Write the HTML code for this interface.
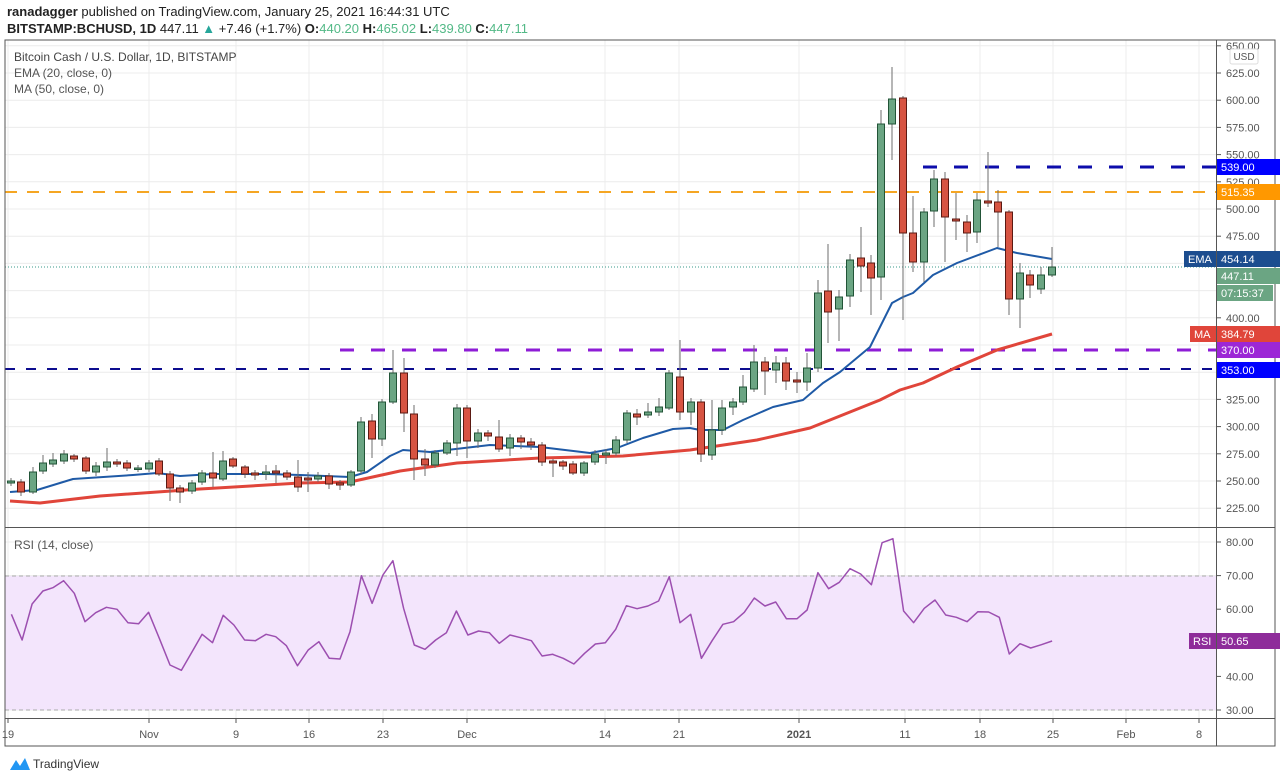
<!DOCTYPE html>
<html><head><meta charset="utf-8"><style>
body{margin:0;background:#fff;width:1280px;height:781px;overflow:hidden;font-family:"Liberation Sans",sans-serif}
svg{display:block}
</style></head><body>
<svg id="s" width="1280" height="781" xmlns="http://www.w3.org/2000/svg" font-family="Liberation Sans, sans-serif">
<text x="7" y="16" font-size="13" fill="#222"><tspan font-weight="bold">ranadagger</tspan> published on TradingView.com, January 25, 2021 16:44:31 UTC</text>
<text x="7" y="33" font-size="13" fill="#222"><tspan font-weight="bold">BITSTAMP:BCHUSD, 1D</tspan> 447.11 <tspan fill="#26a69a">▲</tspan> +7.46 (+1.7%) <tspan font-weight="bold">O:</tspan><tspan fill="#53b987">440.20</tspan> <tspan font-weight="bold">H:</tspan><tspan fill="#53b987">465.02</tspan> <tspan font-weight="bold">L:</tspan><tspan fill="#53b987">439.80</tspan> <tspan font-weight="bold">C:</tspan><tspan fill="#53b987">447.11</tspan></text>
<g id="grid" stroke="#ececec" stroke-width="1"></g>
<rect x="5" y="576" width="1211" height="134" fill="#f3e5fc"/>
<line x1="5" y1="576" x2="1216" y2="576" stroke="#aaa" stroke-dasharray="4,3"/>
<line x1="5" y1="710" x2="1216" y2="710" stroke="#aaa" stroke-dasharray="4,3"/>
<g id="plot"></g>
<rect x="5" y="40" width="1270" height="706" fill="none" stroke="#555" stroke-width="1"/>
<line x1="1216.5" y1="40" x2="1216.5" y2="746" stroke="#555"/>
<line x1="5" y1="527.5" x2="1275" y2="527.5" stroke="#555"/>
<line x1="5" y1="718.5" x2="1275" y2="718.5" stroke="#555"/>
<g id="axis" font-size="11" fill="#555"></g>
<text x="14" y="61" font-size="12" fill="#444">Bitcoin Cash / U.S. Dollar, 1D, BITSTAMP</text>
<text x="14" y="77" font-size="12" fill="#555">EMA (20, close, 0)</text>
<text x="14" y="93" font-size="12" fill="#555">MA (50, close, 0)</text>
<text x="14" y="549" font-size="12" fill="#555">RSI (14, close)</text>
<rect x="1230" y="49" width="28" height="15" rx="2" fill="#fff" stroke="#ddd"/>
<text x="1244" y="60" font-size="10" fill="#555" text-anchor="middle">USD</text>
<g transform="translate(10,756)"><path d="M0 14 L6 4 L10 10 L15 2 L20 14 Z" fill="#2196f3"/></g>
<text x="33" y="768" font-size="12" fill="#333">TradingView</text>
</svg>
<script>
const NS="http://www.w3.org/2000/svg";
function el(p,t,a,txt){const e=document.createElementNS(NS,t);for(const k in a)e.setAttribute(k,a[k]);if(txt!=null)e.textContent=txt;document.getElementById(p).appendChild(e);return e;}
const py=p=>481-(p-250)*1.088;
const ry=r=>710-(r-30)*3.36;
// grid
const vx=[8,149,236,309,383,467,605,679,799,905,980,1053,1126,1199];
vx.forEach(x=>{el('grid','line',{x1:x,y1:40,x2:x,y2:718});});
for(let p=225;p<=650;p+=25)el('grid','line',{x1:5,y1:py(p),x2:1216,y2:py(p)});
for(let r=30;r<=80;r+=10)el('grid','line',{x1:5,y1:ry(r),x2:1216,y2:ry(r)});
// price labels
[650,625,600,575,550,525,500,475,400,325,300,275,250,225].forEach(p=>{const y=py(p);el('axis','line',{x1:1216,y1:y,x2:1221,y2:y,stroke:'#555'});el('axis','text',{x:1226,y:y+4},p.toFixed(2));});
[80,70,60,50,40,30].forEach(r=>{const y=ry(r);el('axis','line',{x1:1216,y1:y,x2:1221,y2:y,stroke:'#555'});el('axis','text',{x:1226,y:y+4},r.toFixed(2));});
const tl=[[8,'19'],[149,'Nov'],[236,'9'],[309,'16'],[383,'23'],[467,'Dec'],[605,'14'],[679,'21'],[799,'2021'],[905,'11'],[980,'18'],[1053,'25'],[1126,'Feb'],[1199,'8']];
tl.forEach(([x,t])=>{el('axis','line',{x1:x,y1:718,x2:x,y2:723,stroke:'#555'});el('axis','text',{x:x,y:738,'text-anchor':'middle','font-weight':t=='2021'?'bold':'normal'},t);});
// horizontal levels
el('plot','line',{x1:5,y1:192,x2:1216,y2:192,stroke:'#f5a623','stroke-width':2,'stroke-dasharray':'12,10'});
el('plot','line',{x1:923,y1:167,x2:1216,y2:167,stroke:'#0d0dab','stroke-width':3,'stroke-dasharray':'14,17'});
el('plot','line',{x1:340,y1:350,x2:1216,y2:350,stroke:'#8e1cd6','stroke-width':3,'stroke-dasharray':'14,17'});
el('plot','line',{x1:5,y1:369,x2:1216,y2:369,stroke:'#0d0d8f','stroke-width':2,'stroke-dasharray':'10,11'});
el('plot','line',{x1:5,y1:267,x2:1216,y2:267,stroke:'#3a9a8a','stroke-width':1,'stroke-dasharray':'1,2'});
// MA / EMA
const ma=[[10,501],[40,503],[100,496],[200,489],[300,483],[350,482],[400,471],[457,463],[540,458],[623,456],[690,450],[757,440],[810,428],[880,400],[900,390],[923,383],[957,367],[997,350],[1052,334]];
const ema=[[10,492],[37,490],[73,479],[133,475],[157,473],[180,476],[213,474],[267,474],[300,475],[350,477],[367,472],[390,456],[403,450],[430,452],[490,445],[540,447],[590,453],[617,448],[643,438],[673,429],[690,428],[700,430],[723,430],[743,420],[773,407],[803,400],[823,383],[840,372],[870,347],[892,303],[903,297],[913,293],[933,275],[957,263],[997,248],[1017,253],[1052,259]];
el('plot','polyline',{points:ma.join(' '),fill:'none',stroke:'#e0453a','stroke-width':3,'stroke-linejoin':'round'});
el('plot','polyline',{points:ema.join(' '),fill:'none',stroke:'#1f5aa6','stroke-width':2,'stroke-linejoin':'round'});
// candles: x, top, bottom, g/r, high, low
const C=[[11,481,483,'g',478,486],[21,482,492,'r',479,496],[33,472,492,'g',467,494],[43,463,471,'g',455,474],[53,460,464,'g',453,467],[64,454,461,'g',450,464],[74,456,459,'r',454,462],[86,458,471,'r',456,474],[96,466,472,'g',462,476],[107,462,467,'g',448,471],[117,462,464,'r',459,467],[127,463,468,'r',460,471],[138,468,469,'g',465,472],[149,463,469,'g',460,472],[159,461,474,'r',458,476],[170,474,488,'r',471,501],[180,488,492,'r',485,503],[192,483,491,'g',480,494],[202,473,482,'g',470,485],[213,473,478,'r',452,487],[223,461,479,'g',451,481],[233,459,466,'r',457,468],[245,467,474,'r',465,478],[255,473,475,'r',470,480],[266,472,474,'g',465,480],[276,471,473,'r',465,483],[287,473,477,'r',470,480],[298,477,487,'r',460,492],[308,478,480,'r',472,492],[318,476,479,'g',472,482],[329,476,484,'r',473,489],[340,483,485,'r',480,490],[351,472,485,'g',470,487],[361,422,471,'g',417,474],[372,421,439,'r',414,458],[382,402,439,'g',399,446],[393,373,402,'g',350,404],[404,373,413,'r',358,432],[414,414,459,'r',405,480],[425,459,465,'r',449,476],[435,453,465,'g',450,468],[447,443,453,'g',440,455],[457,408,443,'g',404,456],[467,408,441,'r',405,458],[478,433,441,'g',429,448],[488,433,436,'r',430,441],[499,437,449,'r',420,452],[510,438,448,'g',434,456],[521,438,442,'r',435,449],[531,442,445,'r',438,450],[542,445,462,'r',442,466],[553,461,463,'r',459,477],[563,462,466,'r',460,470],[573,464,473,'r',461,475],[584,463,473,'g',461,476],[595,454,462,'g',450,465],[606,453,455,'g',449,464],[616,440,453,'g',436,456],[627,413,440,'g',410,443],[637,414,417,'r',409,425],[648,412,415,'g',403,418],[659,407,412,'g',398,416],[669,373,408,'g',370,410],[680,377,412,'r',340,420],[691,402,412,'g',398,425],[701,402,454,'r',399,462],[712,430,455,'g',400,460],[722,408,430,'g',400,435],[733,402,407,'g',398,415],[743,387,402,'g',375,405],[754,362,389,'g',345,392],[765,362,371,'r',357,395],[776,363,370,'g',356,383],[786,363,381,'r',357,390],[797,380,382,'r',372,393],[807,368,382,'g',353,391],[818,293,368,'g',280,372],[828,291,312,'r',244,343],[839,297,309,'g',290,341],[850,260,296,'g',254,307],[861,258,266,'r',227,292],[871,263,278,'r',255,315],[881,124,277,'g',110,300],[892,99,124,'g',67,160],[903,98,233,'r',96,320],[913,233,262,'r',196,272],[924,212,262,'g',208,282],[934,179,211,'g',170,227],[945,179,217,'r',172,262],[956,219,221,'r',193,240],[967,222,233,'r',215,252],[977,200,232,'g',193,243],[988,201,203,'r',152,207],[998,202,212,'r',190,247],[1009,212,299,'r',210,315],[1020,273,299,'g',263,328],[1030,275,285,'r',270,298],[1041,275,289,'g',267,294],[1052,267,275,'g',247,277]];
C.forEach(([x,t,b,c,h,l])=>{
 el('plot','line',{x1:x,y1:h,x2:x,y2:l,stroke:'#6e6e6e','stroke-width':1});
 el('plot','rect',{x:x-3.5,y:t,width:7,height:Math.max(1.5,b-t),fill:c=='g'?'#6ba583':'#d75442',stroke:c=='g'?'#225437':'#5b1a13','stroke-width':1});
});
// RSI
const r1=[[32,268],[62,345],[90,237],[120,198],[148,188],[178,167],[208,205],[238,290],[268,263],[298,247],[328,253],[358,293],[388,296],[416,262],[446,340],[476,420],[508,436],[538,380],[566,328],[595,353],[625,271],[655,300],[685,345],[715,347],[745,328],[772,335],[802,362],[833,422],[863,375],[893,350],[922,400],[952,402],[980,320],[1012,152],[1042,235],[1072,150],[1100,107],[1130,250],[1160,360],[1190,373],[1220,345],[1250,323],[1278,258],[1310,330],[1340,318],[1370,323],[1398,355],[1428,330],[1458,338],[1488,347],[1518,393],[1548,388]].map(([a,b])=>[a/2.8,525+b/3]);
const r2=[[35,388],[65,400],[95,417],[125,385],[155,357],[183,353],[212,313],[242,242],[272,251],[302,243],[332,228],[362,155],[392,293],[422,268],[452,400],[482,347],[512,298],[542,290],[572,262],[600,219],[630,243],[660,231],[690,281],[720,281],[748,255],[778,143],[808,191],[838,172],[868,131],[898,147],[928,179],[958,53],[988,41],[1018,258],[1046,293],[1076,250],[1106,225],[1136,270],[1166,277],[1196,290],[1226,260],[1256,261],[1286,277],[1314,387],[1344,356],[1374,369],[1404,359],[1434,348]].map(([a,b])=>[540+a/2.8,525+b/3]);
el('plot','polyline',{points:r1.concat(r2).map(p=>p[0].toFixed(1)+','+p[1].toFixed(1)).join(' '),fill:'none',stroke:'#9c4fb0','stroke-width':1.5,'stroke-linejoin':'round'});
// labels boxes
function box(x,y,w,fill,txt,tc){el('axis','rect',{x:x,y:y-8,width:w,height:16,fill:fill});el('axis','text',{x:x+4,y:y+4,fill:tc||'#fff'},txt);}
box(1217,167,63,'#0000ff','539.00');
box(1217,192,63,'#ff9800','515.35');
box(1184,259,32,'#1c4d8f','EMA');box(1217,259,63,'#1c4d8f','454.14');
box(1217,276,63,'#6ba583','447.11');
box(1217,293,56,'#6ba583','07:15:37');
box(1190,334,26,'#e0453a','MA');box(1217,334,63,'#e0453a','384.79');
box(1217,350,63,'#9c27d6','370.00');
box(1217,370,63,'#0000ff','353.00');
box(1189,641,27,'#8e2c9a','RSI');box(1217,641,63,'#8e2c9a','50.65');
</script>
</body></html>
